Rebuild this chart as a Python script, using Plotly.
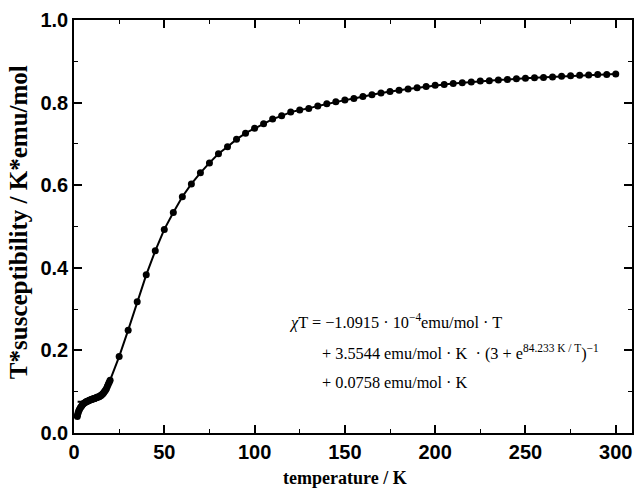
import plotly.graph_objects as go

# Measured data (temperature in K, chi*T in K*emu/mol)
temp_low = [1.8, 2.0, 2.3, 2.6, 3.0, 3.5, 4.0, 4.5, 5.0, 5.5, 6.0, 6.5, 7.0, 7.5, 8.0, 8.5, 9.0,
            9.5, 10.0, 10.5, 11.0, 11.5, 12.0, 12.5, 13.0, 13.5, 14.0, 14.5, 15.0, 15.5, 16.0,
            16.5, 17.0, 17.5, 18.0, 18.5, 19.0, 19.5]
chit_low = [0.040, 0.044, 0.049, 0.053, 0.057, 0.061, 0.064, 0.067, 0.070, 0.072, 0.073, 0.075,
            0.076, 0.077, 0.078, 0.079, 0.080, 0.081, 0.082, 0.083, 0.083, 0.084, 0.085, 0.086,
            0.087, 0.087, 0.088, 0.090, 0.091, 0.093, 0.095, 0.098, 0.101, 0.104, 0.108, 0.113,
            0.118, 0.123]

temp_high = [20, 25, 30, 35, 40, 45, 50, 55, 60, 65, 70, 75, 80, 85, 90, 95, 100, 105, 110,
             115, 120, 125, 130, 135, 140, 145, 150, 155, 160, 165, 170, 175, 180, 185, 190,
             195, 200, 205, 210, 215, 220, 225, 230, 235, 240, 245, 250, 255, 260, 265, 270,
             275, 280, 285, 290, 295, 300]
chit_high = [0.128, 0.185, 0.249, 0.318, 0.383, 0.441, 0.493, 0.534, 0.572, 0.603, 0.630,
             0.654, 0.676, 0.693, 0.711, 0.726, 0.738, 0.749, 0.760, 0.768, 0.777, 0.782,
             0.786, 0.792, 0.797, 0.802, 0.806, 0.810, 0.815, 0.819, 0.823, 0.827, 0.830,
             0.833, 0.836, 0.839, 0.842, 0.844, 0.846, 0.848, 0.850, 0.852, 0.853, 0.855,
             0.856, 0.858, 0.859, 0.860, 0.861, 0.862, 0.864, 0.865, 0.866, 0.867, 0.868,
             0.868, 0.869]

# Fit curve (low-temperature part; above 20 K it follows the data)
fit_temp_low = [2, 4, 6, 8, 10, 12, 14, 16, 18]
fit_chit_low = [0.0757, 0.0756, 0.0756, 0.0756, 0.0757, 0.0777, 0.083, 0.092, 0.106]

x_ticks = [0, 50, 100, 150, 200, 250, 300]
y_ticks = [0.0, 0.2, 0.4, 0.6, 0.8, 1.0]
y_tick_text = ["0.0", "0.2", "0.4", "0.6", "0.8", "1.0"]

fig = go.Figure()

fig.add_trace(go.Scatter(
    x=fit_temp_low + temp_high, y=fit_chit_low + chit_high,
    mode="lines", line=dict(color="black", width=2), showlegend=False,
    hoverinfo="skip"))

fig.add_trace(go.Scatter(
    x=temp_low + temp_high, y=chit_low + chit_high,
    mode="markers", marker=dict(color="black", size=7), showlegend=False))

serif = "Liberation Serif, Times New Roman, serif"
sans = "Liberation Sans, Arial, sans-serif"

ann_font = dict(family=serif, size=16.3, color="black")
fig.add_annotation(x=118, y=0.271, xref="x", yref="y", xanchor="left", yanchor="middle",
                   text="<i>χ</i>T = −1.0915 · 10<sup>−4</sup>emu/mol · T",
                   showarrow=False, font=ann_font)
fig.add_annotation(x=136, y=0.194, xref="x", yref="y", xanchor="left", yanchor="middle",
                   text="+ 3.5544 emu/mol · K  · (3 + e<sup>84.233 K / T</sup>)<sup>−1</sup>",
                   showarrow=False, font=ann_font)
fig.add_annotation(x=136, y=0.123, xref="x", yref="y", xanchor="left", yanchor="middle",
                   text="+ 0.0758 emu/mol · K",
                   showarrow=False, font=ann_font)

# Axis titles as annotations (fixed positions)
fig.add_annotation(x=0.486, y=-0.109, xref="paper", yref="paper", xanchor="center", yanchor="middle",
                   text="<b>temperature / K</b>", showarrow=False,
                   font=dict(family=serif, size=18, color="black"))
fig.add_annotation(x=-0.099, y=0.51, xref="paper", yref="paper", xanchor="center", yanchor="middle",
                   text="<b>T*susceptibility / K*emu/mol</b>", showarrow=False, textangle=-90,
                   font=dict(family=serif, size=25, color="black"))

axis_common = dict(
    showline=True, linecolor="black", linewidth=1.5, mirror="allticks",
    ticks="inside", ticklen=8, tickwidth=1.5, tickcolor="black",
    showgrid=False, zeroline=False, automargin=False,
    tickfont=dict(family=sans, size=20, color="black", weight="bold"),
)

fig.update_xaxes(range=[0, 309], tickvals=x_ticks,
                 minor=dict(dtick=25, ticks="inside", ticklen=4, tickwidth=1.2, tickcolor="black"),
                 **axis_common)
fig.update_yaxes(range=[0, 1.0], tickvals=y_ticks, ticktext=y_tick_text,
                 minor=dict(dtick=0.1, ticks="inside", ticklen=4, tickwidth=1.2, tickcolor="black"),
                 **axis_common)

fig.update_layout(
    width=634, height=490,
    margin=dict(l=74, r=2, t=20, b=57),
    paper_bgcolor="white", plot_bgcolor="white",
)

fig.write_html("out.html", config={"displayModeBar": False},
               post_script="document.body.style.margin='0';document.body.style.overflow='hidden';")
